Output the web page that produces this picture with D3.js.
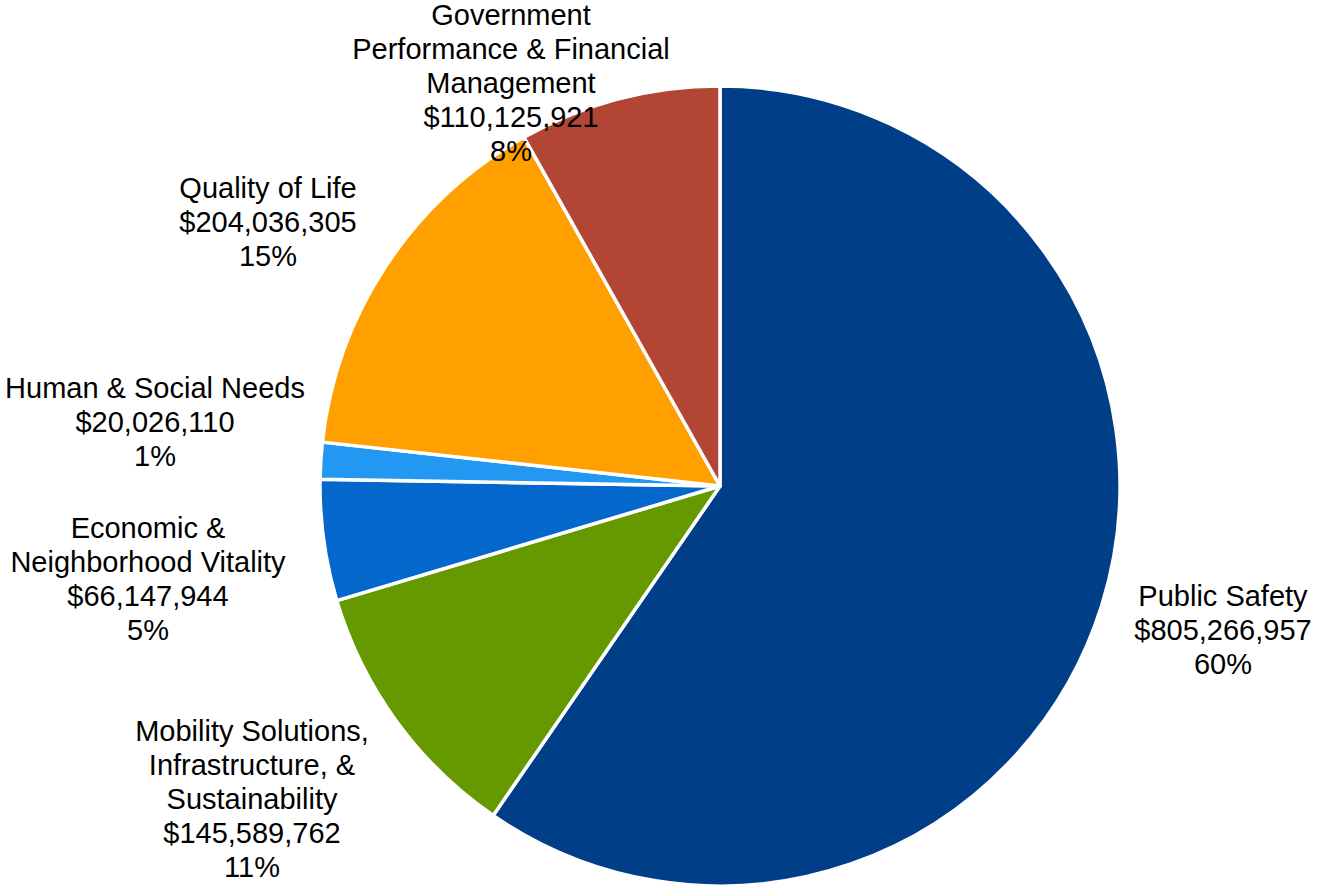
<!DOCTYPE html>
<html>
<head>
<meta charset="utf-8">
<script src="https://cdn.jsdelivr.net/npm/d3@7"></script>
<style>
  html, body { margin: 0; padding: 0; background: #fff; }
  svg { display: block; }
  .lbl { font-family: "Liberation Sans", Arial, sans-serif; font-size: 29px; fill: #000; }
</style>
</head>
<body>
<div id="chart"></div>
<script>
// data, clockwise from 12 o'clock
var categories = [
  "Public Safety",
  "Mobility Solutions,\nInfrastructure, &\nSustainability",
  "Economic &\nNeighborhood Vitality",
  "Human & Social Needs",
  "Quality of Life",
  "Government\nPerformance & Financial\nManagement"
];
var values = [805266957, 145589762, 66147944, 20026110, 204036305, 110125921];
var colors = ["#003f87", "#669900", "#0467cc", "#2398f2", "#ffa000", "#b34535"];

// label block anchors: centre x, first baseline y (layout only)
var labelAnchor = [
  [1223, 606],
  [252, 741],
  [148, 538],
  [155, 398],
  [268, 198],
  [511, 25]
];

var svgWidth = 1317,
    svgHeight = 886,
    cx = 720,
    cy = 486,
    radius = 400,
    lineH = 34;

var svg = d3.select("#chart").append("svg")
  .attr("width", svgWidth)
  .attr("height", svgHeight);

var total = d3.sum(values);
var fmtMoney = d3.format(",");
var fmtPct = d3.format(".0%");

var pie = d3.pie().sort(null).value(function(d) { return d; });
var arc = d3.arc().innerRadius(0).outerRadius(radius);

var g = svg.append("g")
  .attr("transform", "translate(" + cx + "," + cy + ")");

g.selectAll("path")
  .data(pie(values))
  .enter().append("path")
  .attr("d", arc)
  .attr("fill", function(d, i) { return colors[i]; })
  .attr("stroke", "#fff")
  .attr("stroke-width", 3.5)
  .attr("stroke-linejoin", "round");

var labels = svg.append("g").selectAll("text")
  .data(values)
  .enter().append("text")
  .attr("class", "lbl")
  .attr("text-anchor", "middle")
  .attr("x", function(d, i) { return labelAnchor[i][0]; })
  .attr("y", function(d, i) { return labelAnchor[i][1]; });

labels.each(function(d, i) {
  var lines = categories[i].split("\n");
  lines.push("$" + fmtMoney(d));
  lines.push(fmtPct(d / total));
  var t = d3.select(this);
  lines.forEach(function(s, j) {
    t.append("tspan")
      .attr("x", labelAnchor[i][0])
      .attr("dy", j == 0 ? 0 : lineH)
      .text(s);
  });
});
</script>
</body>
</html>
